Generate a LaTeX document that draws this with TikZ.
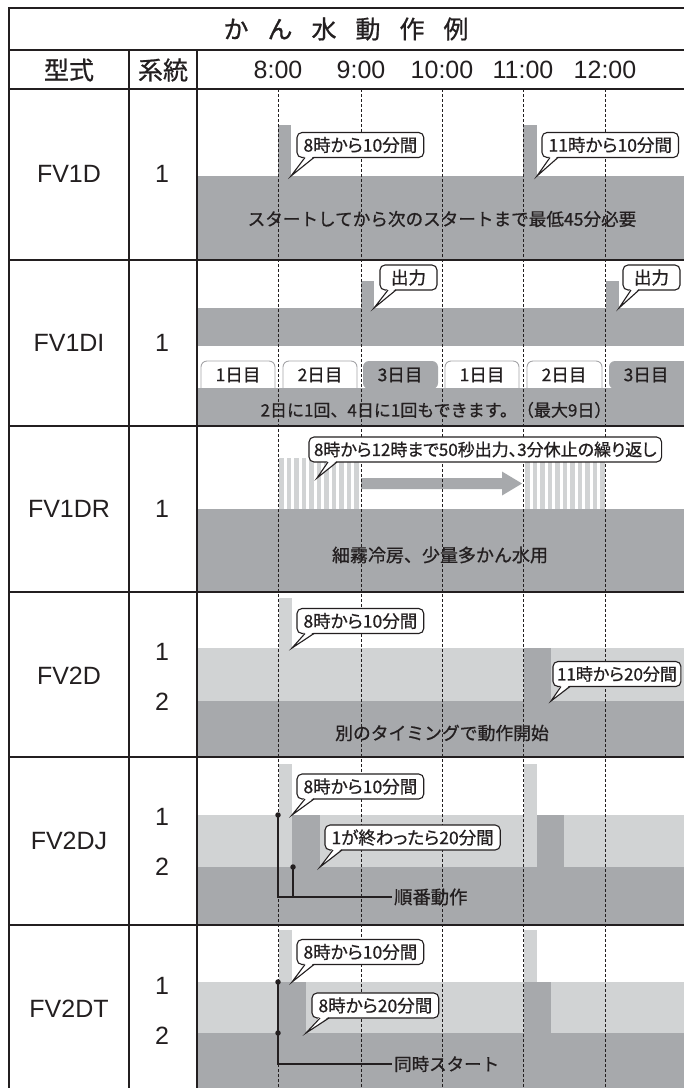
\documentclass[tikz,border=0pt]{standalone}
\usepackage{fontspec}
\setmainfont{Liberation Sans}
\newfontfamily\jp[FakeBold=0.8]{Noto Sans CJK JP}
\newfontfamily\jpp[RawFeature=+palt,FakeBold=0.8]{Noto Sans CJK JP}
\definecolor{dg}{RGB}{167,169,172}
\definecolor{lg}{RGB}{209,211,212}
\definecolor{ink}{RGB}{35,31,32}
\definecolor{tabedge}{RGB}{165,165,168}
\newcommand\bubtail[4]{%
  \fill[white] ([xshift=#3,yshift=1.6pt]#1.south west) -- (#2) -- ([xshift=#4,yshift=1.6pt]#1.south west) -- cycle;
  \draw[tailline] ([xshift=#3]#1.south west) -- (#2) -- ([xshift=#4]#1.south west);
}
\begin{document}
\begin{tikzpicture}[x=1pt,y=-1pt,
  grid/.style={draw=ink,line width=1.4pt},
  timeline/.style={draw=ink,line width=0.7pt,dash pattern=on 3pt off 2pt},
  hdr/.style={font=\jp\fontsize{25}{25}\selectfont,text=ink,inner sep=0pt},
  lat/.style={font=\fontsize{25}{25}\selectfont,text=ink,inner sep=0pt},
  bandtxt/.style={font=\jp\fontsize{18}{18}\selectfont,text=ink,inner sep=1pt},
  bub/.style={draw=ink,line width=1.1pt,fill=white,rounded corners=5pt,inner xsep=6.5pt,inner ysep=0pt,outer sep=0pt,minimum height=25pt,anchor=west,font=\jpp\fontsize{17.5}{17.5}\selectfont,text=ink},
  tailline/.style={draw=ink,line width=1.1pt},
  tabw/.style={draw=tabedge,line width=0.9pt,fill=white,rounded corners=6pt},
  tabg/.style={fill=dg,rounded corners=6pt},
  tabtxt/.style={font=\jp\fontsize{17.5}{17.5}\selectfont,text=ink,inner sep=0pt},
  dot/.style={circle,fill=ink,inner sep=0pt,minimum size=5.5pt},
  lead/.style={draw=ink,line width=1.4pt},
  stripe/.style={fill=lg},
]
\useasboundingbox (0,0) rectangle (684,1088);
\fill[white] (0,0) rectangle (684,1088);

% ---------- row FV1D ----------
\fill[dg] (197,176) rectangle (684,260);
\fill[dg] (278,125) rectangle (291,176);
\fill[dg] (523,125) rectangle (537,176);

% ---------- row FV1DI ----------
\fill[dg] (361,281) rectangle (374,308);
\fill[dg] (606,281) rectangle (619,308);
\fill[dg] (197,308) rectangle (684,346);
\path[tabw] (201,389) -- (201,361) -- (275,361) -- (275,389);
\path[tabw] (283,389) -- (283,361) -- (357,361) -- (357,389);
\path[tabg] (363,389) -- (363,361) -- (438,361) -- (438,389) -- cycle;
\path[tabw] (445,389) -- (445,361) -- (519,361) -- (519,389);
\path[tabw] (527,389) -- (527,361) -- (602,361) -- (602,389);
\path[tabg] (609,389) -- (609,361) -- (690,361) -- (690,389) -- cycle;
\fill[dg] (197,388) rectangle (684,426);

% ---------- row FV1DR ----------
\foreach \i in {0,...,10} {\fill[stripe] ({279+7.5*\i},458) rectangle ++(4.5,51);}
\foreach \i in {0,...,10} {\fill[stripe] ({525+7.5*\i},458) rectangle ++(4.5,51);}
\fill[dg] (361,478) -- (502,478) -- (502,471.5) -- (522,483.5) -- (502,495.5) -- (502,489) -- (361,489) -- cycle;
\fill[dg] (197,509) rectangle (684,592);

% ---------- row FV2D ----------
\fill[lg] (279,598) rectangle (292,648);
\fill[lg] (197,648) rectangle (684,701);
\fill[dg] (524,648) rectangle (551,701);
\fill[dg] (197,701) rectangle (684,757);

% ---------- row FV2DJ ----------
\fill[lg] (279,764) rectangle (292,815);
\fill[lg] (524,764) rectangle (537,815);
\fill[lg] (197,815) rectangle (684,867);
\fill[dg] (292,815) rectangle (320,867);
\fill[dg] (537,815) rectangle (564,867);
\fill[dg] (197,867) rectangle (684,925);

% ---------- row FV2DT ----------
\fill[lg] (279,930) rectangle (292,982);
\fill[lg] (524,930) rectangle (537,982);
\fill[lg] (197,982) rectangle (684,1033);
\fill[dg] (279,982) rectangle (306,1033);
\fill[dg] (524,982) rectangle (551,1033);
\fill[dg] (197,1033) rectangle (684,1088);

% ---------- time lines ----------
\foreach \x in {278,361,442,523,605} {\draw[timeline] (\x,89) -- (\x,1088);}

% ---------- grid ----------
\draw[grid] (9,1090) -- (9,8) -- (690,8);
\draw[grid] (9,50) -- (690,50);
\draw[grid] (9,89) -- (690,89);
\draw[grid] (129,50) -- (129,1090);
\draw[grid] (197,50) -- (197,1090);
\foreach \y in {260,426,592,757,925} {\draw[grid] (9,\y) -- (690,\y);}

% ---------- header ----------
\node[hdr] (title) at (346,29) {か\hspace{19pt}ん\hspace{19pt}水\hspace{19pt}動\hspace{19pt}作\hspace{19pt}例};
\node[hdr] (hmodel) at (69,70) {型式};
\node[hdr] (hsys) at (163,70) {系統};
\node[lat] (t8) at (278,70) {8:00};
\node[lat] (t9) at (361,70) {9:00};
\node[lat] (t10) at (442,70) {10:00};
\node[lat] (t11) at (523,70) {11:00};
\node[lat] (t12) at (605,70) {12:00};

% ---------- left columns ----------
\node[lat] (m1) at (69,174) {FV1D};
\node[lat] (s1) at (162,174) {1};
\node[lat] (m2) at (69,343) {FV1DI};
\node[lat] (s2) at (162,343) {1};
\node[lat] (m3) at (69,509) {FV1DR};
\node[lat] (s3) at (162,509) {1};
\node[lat] (m4) at (69,676) {FV2D};
\node[lat] (s4a) at (162,652) {1};
\node[lat] (s4b) at (162,702) {2};
\node[lat] (m5) at (69,841) {FV2DJ};
\node[lat] (s5a) at (162,817) {1};
\node[lat] (s5b) at (162,867) {2};
\node[lat] (m6) at (69,1009) {FV2DT};
\node[lat] (s6a) at (162,986) {1};
\node[lat] (s6b) at (162,1036) {2};

% ---------- band texts ----------
\node[bandtxt,font=\jp\fontsize{17.6}{17.6}\selectfont] (x1) at (442,219) {スタートしてから次のスタートまで最低45分必要};
\node[tabtxt] (d1) at (238,375) {1日目};
\node[tabtxt] (d2) at (320,375) {2日目};
\node[tabtxt] (d3) at (400,375) {3日目};
\node[tabtxt] (d4) at (482,375) {1日目};
\node[tabtxt] (d5) at (564,375) {2日目};
\node[tabtxt] (d6) at (646,375) {3日目};
\node[bandtxt,font=\jp\fontsize{17}{17}\selectfont] (x2) at (436,410) {2日に1回、4日に1回もできます。（最大9日）};
\node[bandtxt,font=\jp\fontsize{18}{18}\selectfont] (x3) at (440,555) {細霧冷房、少量多かん水用};
\node[bandtxt,font=\jp\fontsize{17.8}{17.8}\selectfont] (x4) at (442,733) {別のタイミングで動作開始};

% ---------- callouts ----------
\coordinate (p1) at (291,176);
\coordinate (p2) at (537,176);
\coordinate (p3) at (374,308);
\coordinate (p4) at (619,308);
\coordinate (p5) at (317,478);
\coordinate (p6) at (292,648);
\coordinate (p7) at (551,701);
\coordinate (p8) at (292,815);
\coordinate (p9) at (320,867);
\coordinate (p10) at (292,982);
\coordinate (p11) at (306,1033);

\node[bub] (b1) at (297,145) {8時から10分間};
\bubtail{b1}{p1}{8pt}{17pt}
\node[bub] (b2) at (542,145) {11時から10分間};
\bubtail{b2}{p2}{8pt}{16pt}
\node[bub,inner xsep=11pt] (b3) at (380,277.5) {出力};
\bubtail{b3}{p3}{8pt}{16pt}
\node[bub,inner xsep=11pt] (b4) at (623,277.5) {出力};
\bubtail{b4}{p4}{8pt}{16pt}
\node[bub,font=\jpp\fontsize{17}{17}\selectfont,inner xsep=5pt] (b5) at (309,449.5) {8時から12時まで50秒出力、3分休止の繰り返し};
\bubtail{b5}{p5}{19pt}{28pt}
\node[bub] (b6) at (297,621) {8時から10分間};
\bubtail{b6}{p6}{8pt}{17pt}
\node[bub,inner xsep=4pt,font=\jpp\fontsize{17}{17}\selectfont] (b7) at (553,674) {11時から20分間};
\bubtail{b7}{p7}{8pt}{17pt}
\node[bub] (b8) at (297,786.5) {8時から10分間};
\bubtail{b8}{p8}{8pt}{17pt}
\node[bub] (b9) at (325,837.5) {1が終わったら20分間};
\bubtail{b9}{p9}{8pt}{17pt}
\node[bub] (b10) at (297,952) {8時から10分間};
\bubtail{b10}{p10}{8pt}{17pt}
\node[bub] (b11) at (312,1005.5) {8時から20分間};
\bubtail{b11}{p11}{8pt}{17pt}

% ---------- sequence / simultaneous leads ----------
\node[dot] (dj1) at (278,815) {};
\node[dot] (dj2) at (293,867) {};
\node[bandtxt,anchor=west,inner xsep=2pt,font=\jp\fontsize{18.3}{18.3}\selectfont] (lj) at (392,897) {順番動作};
\draw[lead] (dj1.center) |- (lj.west);
\draw[lead] (dj2.center) -- (dj2.center |- lj.west);

\node[dot] (dt1) at (278,982) {};
\node[dot] (dt2) at (278,1033) {};
\node[bandtxt,anchor=west,inner xsep=2pt,font=\jp\fontsize{17.5}{17.5}\selectfont] (lt) at (392,1064) {同時スタート};
\draw[lead] (dt1.center) |- (lt.west);
\end{tikzpicture}
\end{document}
